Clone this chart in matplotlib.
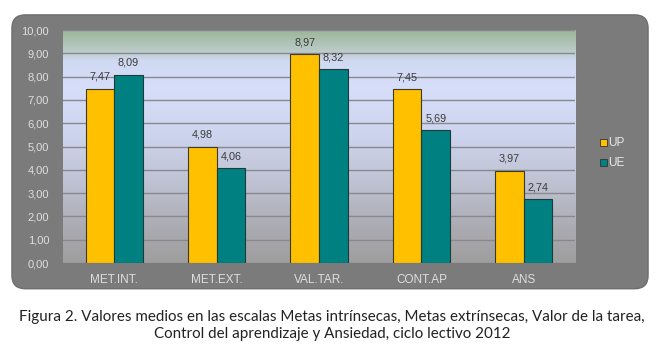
import numpy as np
import matplotlib.pyplot as plt
from matplotlib.patches import FancyBboxPatch, Rectangle
from matplotlib.colors import LinearSegmentedColormap

categories = ["MET.INT.", "MET.EXT.", "VAL.TAR.", "CONT.AP", "ANS"]
up_values = [7.47, 4.98, 8.97, 7.45, 3.97]
ue_values = [8.09, 4.06, 8.32, 5.69, 2.74]
series_names = ["UP", "UE"]
yticks = [0, 1, 2, 3, 4, 5, 6, 7, 8, 9, 10]

caption = ("Figura 2. Valores medios en las escalas Metas intrínsecas, Metas extrínsecas, Valor de la tarea,\n"
           "Control del aprendizaje y Ansiedad, ciclo lectivo 2012")

fig = plt.figure(figsize=(6.64, 3.51), dpi=100)
fig.patch.set_facecolor("white")

# gray rounded panel behind the chart
panel = FancyBboxPatch((0.022, 0.185), 0.95, 0.765,
                       boxstyle="round,pad=0.004,rounding_size=0.02",
                       transform=fig.transFigure, facecolor="#7b7b7b",
                       edgecolor="#6e6e6e", linewidth=1, mutation_aspect=1.89,
                       zorder=-5)
fig.patches.append(panel)

ax = fig.add_axes([0.0949, 0.2507, 0.7711, 0.6638])

# background gradient (gray at bottom, light blue middle, green top)
cmap = LinearSegmentedColormap.from_list("bg", [
    (0.00, "#9e9e9e"),
    (0.15, "#ababb2"),
    (0.35, "#bfc3d3"),
    (0.55, "#cdd4ee"),
    (0.75, "#d6def9"),
    (0.87, "#d0d9f2"),
    (0.91, "#bccbc9"),
    (1.00, "#9cb699"),
])
grad = np.linspace(0, 1, 256).reshape(-1, 1)
ax.imshow(grad, extent=[-0.5, 4.5, 0, 10], origin="lower", aspect="auto",
          cmap=cmap, zorder=0)

x = np.arange(len(categories))
w = 0.28
b1 = ax.bar(x - w / 2, up_values, w, color="#FFC000", edgecolor="#3a3a2a",
            linewidth=0.8, zorder=3, label=series_names[0])
b2 = ax.bar(x + w / 2, ue_values, w, color="#008080", edgecolor="#1e3a3a",
            linewidth=0.8, zorder=3, label=series_names[1])

for bars, vals in [(b1, up_values), (b2, ue_values)]:
    for rect, v in zip(bars, vals):
        ax.text(rect.get_x() + rect.get_width() / 2, v + 0.3,
                f"{v:.2f}".replace(".", ","), ha="center", va="bottom",
                fontsize=7.8, color="#3c3c3c", family="Liberation Sans", zorder=4)

ax.set_xlim(-0.5, 4.5)
ax.set_ylim(0, 10)
ax.set_yticks(yticks)
ax.set_yticklabels([f"{t:.2f}".replace(".", ",") for t in yticks])
ax.set_xticks(x)
ax.set_xticklabels(categories)
ax.tick_params(axis="both", length=0, colors="#dedede", labelsize=8)
ax.tick_params(axis="x", labelsize=8.5, pad=8)
ax.tick_params(axis="y", pad=10)
for lbl in ax.get_xticklabels() + ax.get_yticklabels():
    lbl.set_family("Liberation Sans")
ax.yaxis.grid(True, color="#888890", linewidth=1)
ax.set_axisbelow(False)
for line in ax.get_ygridlines():
    line.set_zorder(1)
for s in ax.spines.values():
    s.set_visible(False)

# legend
fig.patches.append(Rectangle((0.903, 0.583), 0.011, 0.02, transform=fig.transFigure,
                             facecolor="#FFC000", edgecolor="#333333", linewidth=0.6))
fig.patches.append(Rectangle((0.903, 0.527), 0.011, 0.02, transform=fig.transFigure,
                             facecolor="#008080", edgecolor="#333333", linewidth=0.6))
fig.text(0.916, 0.593, series_names[0], fontsize=8.5, color="#e8e8e8",
         family="Liberation Sans", va="center")
fig.text(0.916, 0.537, series_names[1], fontsize=8.5, color="#e8e8e8",
         family="Liberation Sans", va="center")

fig.text(0.5, 0.072, caption, ha="center", va="center", fontsize=10.9,
         family="Lato", color="#222222", linespacing=1.25)

fig.savefig("out.png", dpi=100)
